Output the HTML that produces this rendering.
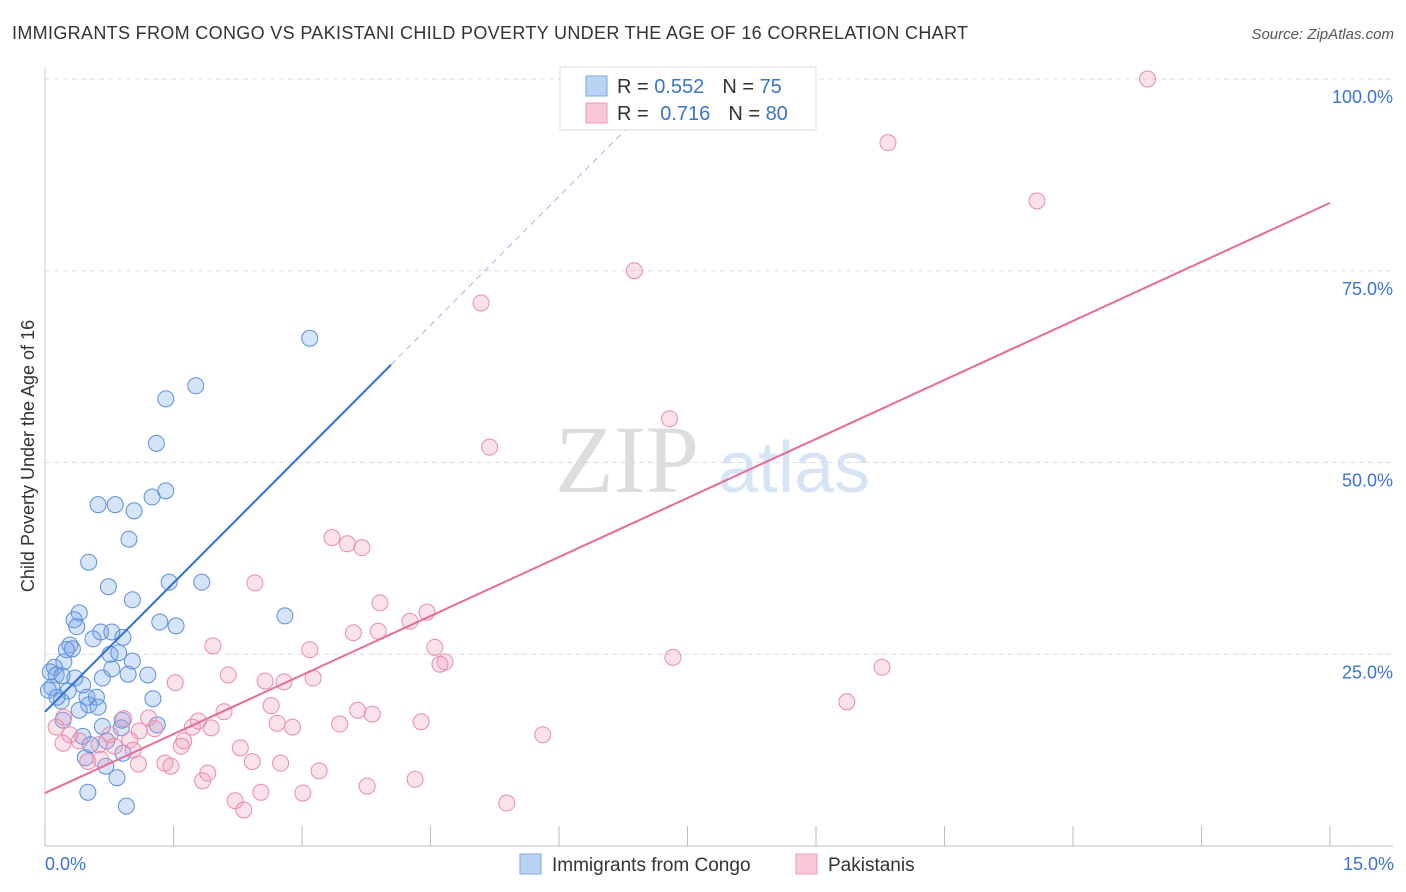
<!DOCTYPE html>
<html><head><meta charset="utf-8"><style>
body{margin:0;background:#fff;font-family:"Liberation Sans",sans-serif;}
svg{display:block}
</style></head><body>
<svg id="chart" width="1406" height="892">
<text x="12" y="39" font-size="18" fill="#333" textLength="956" lengthAdjust="spacing">IMMIGRANTS FROM CONGO VS PAKISTANI CHILD POVERTY UNDER THE AGE OF 16 CORRELATION CHART</text>
<text x="1394" y="39" font-size="15" fill="#555" font-style="italic" text-anchor="end">Source: ZipAtlas.com</text>
<text x="555" y="492" font-size="96" fill="#ddd" font-family="Liberation Serif,serif">ZIP</text>
<text x="718" y="492" font-size="72" fill="#d6e4f5">atlas</text>
<text transform="translate(34,456) rotate(-90)" font-size="18" fill="#333" text-anchor="middle">Child Poverty Under the Age of 16</text>
<g id="grid"></g><g id="marks"></g>
<g>
<rect x="560" y="67" width="256" height="63" fill="#fff" stroke="#ddd"/>
<rect x="586" y="76" width="21" height="20" fill="#b9d3f5" stroke="#7aa7e6"/>
<rect x="586" y="103" width="21" height="20" fill="#f9c8d6" stroke="#ec9ab5"/>
<text x="617" y="93" font-size="20" fill="#333">R = <tspan fill="#3a74d0">0.552</tspan><tspan dx="18">N = </tspan><tspan fill="#3a74d0">75</tspan></text>
<text x="617" y="120" font-size="20" fill="#333">R = <tspan dx="6" fill="#3a74d0">0.716</tspan><tspan dx="18">N = </tspan><tspan fill="#3a74d0">80</tspan></text>
</g>
<g>
<rect x="520" y="854" width="21" height="20" fill="#b9d3f5" stroke="#7aa7e6"/>
<text x="552" y="871" font-size="19" fill="#333">Immigrants from Congo</text>
<rect x="796" y="854" width="21" height="20" fill="#f9c8d6" stroke="#ec9ab5"/>
<text x="828" y="871" font-size="19" fill="#333">Pakistanis</text>
</g>
</svg>
<script>
const yTicks=[25,50,75,100];
const yTickLabels=["25.0%","50.0%","75.0%","100.0%"];
const xTickCount=10;
const congoX=[3.09,1.76,1.41,1.30,1.41,1.25,0.62,0.82,1.04,0.98,0.51,1.45,1.83,0.74,1.02,2.80,0.40,0.34,0.37,1.34,1.53,0.65,0.78,0.91,0.56,0.29,0.32,0.25,0.76,0.86,1.02,0.22,0.11,0.06,0.13,0.20,0.35,0.67,0.97,1.20,0.78,0.44,0.08,0.27,0.49,0.60,1.26,0.19,0.51,0.62,0.40,0.90,0.21,0.67,1.31,0.89,0.44,0.72,0.53,0.91,0.47,0.71,0.84,0.50,0.95,0.04,0.14];
const congoY=[66.2,60.0,58.3,52.5,46.3,45.5,44.5,44.5,43.7,40.0,37.0,34.4,34.4,33.8,32.1,30.0,30.4,29.5,28.6,29.2,28.7,27.9,27.9,27.2,27.0,26.2,25.7,25.6,25.0,25.2,24.1,24.0,23.3,22.7,22.3,22.2,21.9,21.9,22.4,22.3,23.1,21.0,20.7,20.2,19.4,19.4,19.2,18.9,18.4,18.1,17.7,16.4,16.4,15.6,15.8,15.4,14.3,13.7,13.2,12.1,11.5,10.4,8.9,7.0,5.2,20.3,19.4];
const pakX=[12.87,9.84,11.58,6.88,5.09,7.29,5.19,3.35,3.53,3.70,2.45,3.91,4.46,4.26,3.60,3.89,1.96,4.55,3.09,4.67,4.61,7.33,9.77,2.14,3.13,2.57,2.79,1.52,9.36,2.64,3.65,3.82,2.09,4.39,1.21,1.79,2.71,2.89,3.44,1.72,1.94,1.28,0.92,1.10,5.81,0.22,0.76,0.99,1.62,1.59,0.63,0.40,0.29,0.81,2.28,1.03,0.13,0.21,1.09,1.40,1.47,2.42,2.75,3.20,1.90,4.32,1.84,3.76,2.52,3.01,2.22,2.32,5.39,0.65,0.50];
const pakY=[100,91.7,84.1,75.0,70.8,55.7,52.0,40.2,39.4,38.9,34.3,31.7,30.5,29.3,27.8,28.0,26.1,25.9,25.6,24.0,23.7,24.6,23.3,22.3,21.9,21.5,21.4,21.3,18.8,18.3,17.7,17.2,17.5,16.2,16.7,16.3,16.0,15.5,15.9,15.5,15.4,15.3,16.6,15.0,14.5,16.8,14.5,13.8,13.7,13.0,13.2,13.7,14.5,13.0,12.8,12.5,15.5,13.4,10.7,10.8,10.4,11.0,10.8,9.8,9.5,8.7,8.5,7.8,7.0,6.9,5.9,4.7,5.6,11.3,11.0];
const congoFit=[17.5,11.2]; // intercept, slope
const pakFit=[6.9,5.13];
const xMax=15;
const X=v=>45+v*(1330-45)/xMax;
const Y=v=>846-v*7.67;
const NS="http://www.w3.org/2000/svg";
function mk(parent,tag,attrs){const e=document.createElementNS(NS,tag);for(const k in attrs)e.setAttribute(k,attrs[k]);parent.appendChild(e);return e;}
const grid=document.getElementById('grid'),marks=document.getElementById('marks');
yTicks.forEach((t,i)=>{
 let l=mk(grid,'line',{x1:45,x2:1393,y1:Y(t),y2:Y(t),stroke:'#ddd','stroke-dasharray':'5,4'});
 
 
 let tx=mk(grid,'text',{x:1393,y:Y(t)+24,'font-size':18,fill:'#3a74d0','text-anchor':'end'});
 tx.textContent=yTickLabels[i];
 
 
});
let ax=mk(grid,'line',{x1:45,x2:1393,y1:846,y2:846,stroke:'#bbb'});


let ay=mk(grid,'line',{x1:45,x2:45,y1:67,y2:846,stroke:'#ccc'});


for(let i=0;i<=xTickCount;i++){
 let t=mk(grid,'line',{x1:X(i*xMax/xTickCount),x2:X(i*xMax/xTickCount),y1:826,y2:846,stroke:'#bbb'});
 
 
}
[[0,"0.0%","start",45],[15,"15.0%","end",1394]].forEach(a=>{
 let tx=mk(grid,'text',{x:a[3],y:870,'font-size':18,fill:'#3a74d0','text-anchor':a[2]});
 tx.textContent=a[1];
 
 
});
congoX.forEach((v,i)=>{
 let c=mk(marks,'circle',{cx:X(v),cy:Y(congoY[i]),r:8,fill:'rgba(120,165,235,0.3)',stroke:'#5b8fd9','stroke-width':1});
 
 
});
pakX.forEach((v,i)=>{
 let c=mk(marks,'circle',{cx:X(v),cy:Y(pakY[i]),r:8,fill:'rgba(240,160,190,0.3)',stroke:'#e98bab','stroke-width':1});
 
 
});
const cEnd=4.04, cDashEnd=(100-congoFit[0])/congoFit[1];
let l1=mk(marks,'line',{x1:X(0),y1:Y(congoFit[0]),x2:X(cEnd),y2:Y(congoFit[0]+congoFit[1]*cEnd),stroke:'#2f6fd6','stroke-width':2});


let l2=mk(marks,'line',{x1:X(cEnd),y1:Y(congoFit[0]+congoFit[1]*cEnd),x2:X(cDashEnd),y2:Y(100),stroke:'#9bb8e6','stroke-width':1,'stroke-dasharray':'6,5'});


let l3=mk(marks,'line',{x1:X(0),y1:Y(pakFit[0]),x2:X(15),y2:Y(pakFit[0]+pakFit[1]*15),stroke:'#e8699a','stroke-width':2});


</script>
</body></html>
